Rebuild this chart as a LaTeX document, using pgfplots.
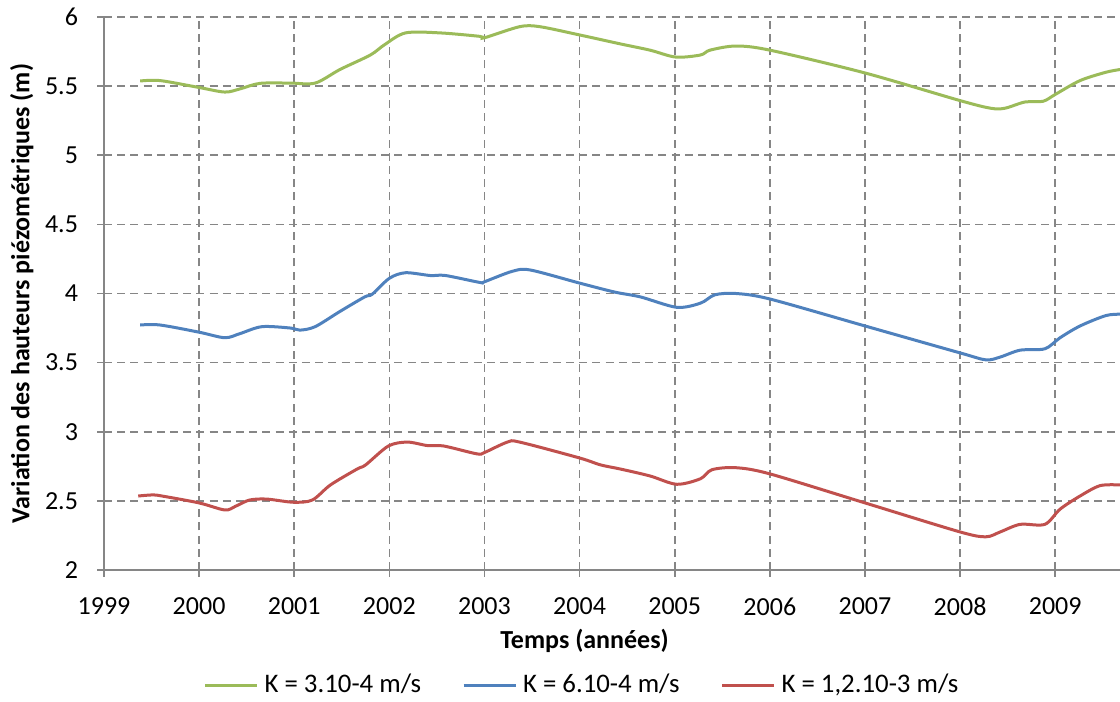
\documentclass[border=0pt]{standalone}
\usepackage{pgfplots}
\pgfplotsset{compat=1.18}
\usepackage{fontspec}
\setmainfont{Carlito}

\definecolor{kgreen}{HTML}{9BBB59}
\definecolor{kblue}{HTML}{4F81BD}
\definecolor{kred}{HTML}{C0504D}
\definecolor{gridgray}{HTML}{868686}

\begin{document}
\begin{tikzpicture}
\begin{axis}[
  scale only axis,
  width=508pt, height=276.5pt,
  xmin=1999, xmax=2009.68,
  ymin=2, ymax=6,
  axis lines*=left,
  axis line style={gridgray, line width=0.9pt, -},
  xtick={1999,...,2009},
  ytick={2,2.5,...,6},
  yticklabels={2,2.5,3,3.5,4,4.5,5,5.5,6},
  /pgf/number format/1000 sep={},
  /pgf/number format/assume math mode=true,
  tick align=center,
  major tick length=7pt,
  tick style={gridgray, line width=0.8pt},
  grid=major,
  major grid style={gridgray, line width=0.8pt, dash pattern=on 4pt off 2.6pt},
  ticklabel style={font=\fontsize{13}{15}\selectfont, text=black},
  xticklabel style={yshift=-7pt},
  yticklabel style={xshift=-6pt},
  xlabel={\textbf{Temps (années)}},
  ylabel={\textbf{Variation des hauteurs piézométriques (m)}},
  xlabel style={font=\fontsize{13}{15}\selectfont, at={(axis description cs:0.473,-0.128)}, anchor=center},
  ylabel style={font=\fontsize{13}{15}\selectfont, at={(axis description cs:-0.081,0.5)}, anchor=center},
  legend columns=3,
  legend style={at={(axis description cs:0.4724,-0.208)}, anchor=center, draw=none,
    font=\fontsize{13.4}{15}\selectfont, column sep=0pt,
    nodes={inner xsep=3pt},
    /tikz/every even column/.append style={column sep=17.5pt}},
  legend cell align=left,
  legend image code/.code={\draw[#1] (0pt,0pt) -- (26pt,0pt);},
  clip=true,
]
\addplot[kgreen, line width=1.5pt, smooth] coordinates {
(1999.38,5.537) (1999.59,5.540) (2000.00,5.490) (2000.27,5.457) (2000.43,5.480)
(2000.64,5.520) (2000.96,5.522) (2001.22,5.522) (2001.48,5.620) (2001.80,5.725)
(2001.95,5.800) (2002.17,5.885) (2002.53,5.885) (2002.95,5.860) (2003.00,5.850)
(2003.37,5.930) (2003.58,5.930) (2004.00,5.870) (2004.43,5.805) (2004.74,5.760)
(2005.01,5.710) (2005.27,5.725) (2005.37,5.760) (2005.64,5.790) (2006.00,5.760)
(2007.00,5.595) (2008.00,5.395) (2008.32,5.340) (2008.47,5.340) (2008.68,5.385)
(2008.87,5.390) (2009.00,5.440) (2009.26,5.540) (2009.53,5.600) (2009.68,5.620)
};
\addlegendentry{K = 3.10-4 m/s}
\addplot[kblue, line width=1.5pt, smooth] coordinates {
(1999.38,3.772) (1999.59,3.772) (2000.00,3.720) (2000.27,3.680) (2000.43,3.710)
(2000.66,3.760) (2000.96,3.750) (2001.06,3.735) (2001.22,3.760) (2001.48,3.870)
(2001.74,3.975) (2001.82,3.995) (2002.00,4.110) (2002.17,4.150) (2002.43,4.130)
(2002.59,4.130) (2002.95,4.080) (2003.00,4.085) (2003.29,4.160) (2003.48,4.170)
(2004.00,4.075) (2004.37,4.010) (2004.64,3.975) (2005.02,3.900) (2005.27,3.930)
(2005.42,3.990) (2005.64,4.000) (2006.00,3.960) (2007.00,3.765) (2008.00,3.570)
(2008.27,3.520) (2008.42,3.540) (2008.63,3.590) (2008.89,3.600) (2009.05,3.680)
(2009.26,3.765) (2009.53,3.840) (2009.68,3.850)
};
\addlegendentry{K = 6.10-4 m/s}
\addplot[kred, line width=1.5pt, smooth] coordinates {
(1999.36,2.535) (1999.51,2.543) (1999.61,2.535) (2000.00,2.485) (2000.27,2.434)
(2000.38,2.460) (2000.53,2.506) (2000.71,2.513) (2000.99,2.490) (2001.19,2.506)
(2001.38,2.615) (2001.66,2.730) (2001.75,2.760) (2001.99,2.897) (2002.19,2.925)
(2002.40,2.900) (2002.57,2.897) (2002.92,2.840) (2003.00,2.850) (2003.24,2.925)
(2003.37,2.925) (2004.00,2.810) (2004.22,2.760) (2004.43,2.730) (2004.74,2.680)
(2005.02,2.620) (2005.27,2.660) (2005.39,2.725) (2005.64,2.740) (2006.00,2.695)
(2007.00,2.485) (2008.00,2.275) (2008.27,2.240) (2008.42,2.275) (2008.63,2.330)
(2008.89,2.330) (2009.05,2.440) (2009.26,2.535) (2009.47,2.610) (2009.68,2.615)
};
\addlegendentry{K = 1,2.10-3 m/s}
\end{axis}
\pgfresetboundingbox
\path[use as bounding box] ([xshift=-52pt,yshift=-66pt]current axis.south west) rectangle ([yshift=8.5pt]current axis.north east);
\end{tikzpicture}
\end{document}
